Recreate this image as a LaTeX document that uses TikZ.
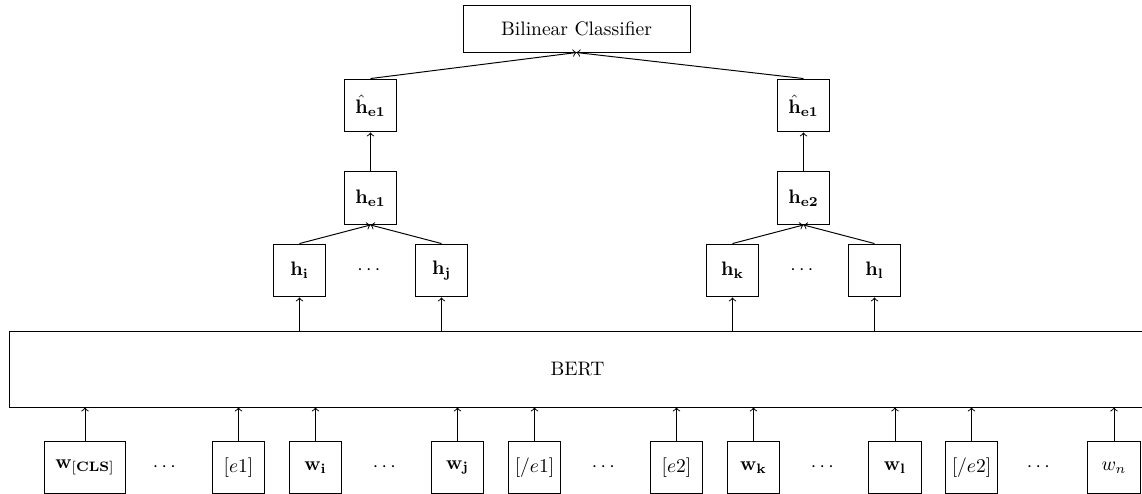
\documentclass[tikz,border=0pt]{standalone}
\usepackage{amsmath}
\begin{document}
\begin{tikzpicture}[x=0.512pt,y=-0.512pt, line width=0.5pt,
  box/.style={draw, rectangle, minimum width=27.1pt, minimum height=27.1pt, inner sep=0pt},
  wide/.style={draw, rectangle, minimum width=41pt, minimum height=27.1pt, inner sep=0pt},
  conn/.style={->}]
\useasboundingbox (0,0) rectangle (1142,493);
% top
\node[draw, rectangle, minimum width=116.2pt, minimum height=23.6pt, inner sep=0pt] (cls) at (576.5,29) {Bilinear Classifier};
\node[box] (hat1) at (370.5,105.5) {$\hat{\mathbf{h}}_{\mathbf{e1}}$};
\node[box] (hat2) at (803.5,105.5) {$\hat{\mathbf{h}}_{\mathbf{e1}}$};
\node[box] (he1) at (370.5,198) {$\mathbf{h_{e1}}$};
\node[box] (he2) at (803.5,198) {$\mathbf{h_{e2}}$};
\node[box] (hi) at (299.5,270.5) {$\mathbf{h_i}$};
\node[box] (hj) at (441.5,270.5) {$\mathbf{h_j}$};
\node[box] (hk) at (732.5,270.5) {$\mathbf{h_k}$};
\node[box] (hl) at (874.5,270.5) {$\mathbf{h_l}$};
\node (dh1) at (370.5,270.5) {$\cdots$};
\node (dh2) at (803.5,270.5) {$\cdots$};
% BERT
\node[draw, rectangle, minimum width=582.1pt, minimum height=38.9pt, inner sep=0pt] (bert) at (577.5,369) {BERT};
% bottom row
\node[wide] (wcls) at (85,467.5) {$\mathbf{w_{[CLS]}}$};
\node (d1) at (166,467.5) {$\cdots$};
\node[box] (e1) at (238.5,467.5) {$[e1]$};
\node[box] (wi) at (315.5,467.5) {$\mathbf{w_i}$};
\node (d2) at (386,467.5) {$\cdots$};
\node[box] (wj) at (457.5,467.5) {$\mathbf{w_j}$};
\node[box] (ee1) at (534.5,467.5) {$[/e1]$};
\node (d3) at (605,467.5) {$\cdots$};
\node[box] (e2) at (676.5,467.5) {$[e2]$};
\node[box] (wk) at (753.5,467.5) {$\mathbf{w_k}$};
\node (d4) at (824,467.5) {$\cdots$};
\node[box] (wl) at (895,467.5) {$\mathbf{w_l}$};
\node[box] (ee2) at (971.5,467.5) {$[/e2]$};
\node (d5) at (1040,467.5) {$\cdots$};
\node[box] (wn) at (1114,467.5) {$w_n$};
% connectors
\foreach \n in {wcls,e1,wi,wj,ee1,e2,wk,wl,ee2,wn}
  \draw[conn] (\n.north) -- (\n.north |- bert.south);
\foreach \n in {hi,hj,hk,hl}
  \draw[conn] (\n.south |- bert.north) -- (\n.south);
\draw[conn] (hi.north) -- (he1.south);
\draw[conn] (hj.north) -- (he1.south);
\draw[conn] (hk.north) -- (he2.south);
\draw[conn] (hl.north) -- (he2.south);
\draw[conn] (he1.north) -- (hat1.south);
\draw[conn] (he2.north) -- (hat2.south);
\draw[conn] (hat1.north) -- (cls.south);
\draw[conn] (hat2.north) -- (cls.south);
\end{tikzpicture}
\end{document}
